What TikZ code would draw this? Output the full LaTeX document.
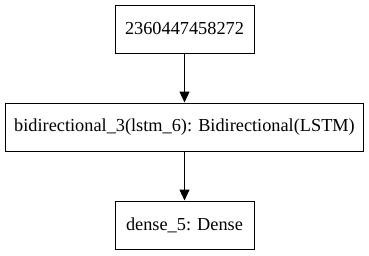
\documentclass[tikz,border=0pt]{standalone}
\usepackage{fontspec}
\setmainfont{Liberation Serif}
\usetikzlibrary{positioning,arrows.meta}

\begin{document}
\begin{tikzpicture}[x=1pt,y=1pt,node distance=49pt]

    % Styles
    \tikzstyle{layer} = [rectangle, minimum height=48pt, text centered, draw=black, line width=1pt, inner sep=0pt, font=\fontsize{18.3}{22}\selectfont]
    \tikzstyle{arrow} = [line width=1pt, -{Triangle[width=10pt,length=11pt]}]

    \useasboundingbox (0,0) rectangle (369,-255);

    % Noeuds
    \node (input) [layer, minimum width=139pt] at (184.5,-29) {2360447458272};
    \node (bilstm) [layer, minimum width=358pt, below=of input] {bidirectional\_3(lstm\_6): Bidirectional(LSTM)};
    \node (dense) [layer, minimum width=139pt, below=of bilstm] {dense\_5: Dense};

    % Flèches
    \draw [arrow] (input) -- (bilstm);
    \draw [arrow] (bilstm) -- (dense);

\end{tikzpicture}
\end{document}
